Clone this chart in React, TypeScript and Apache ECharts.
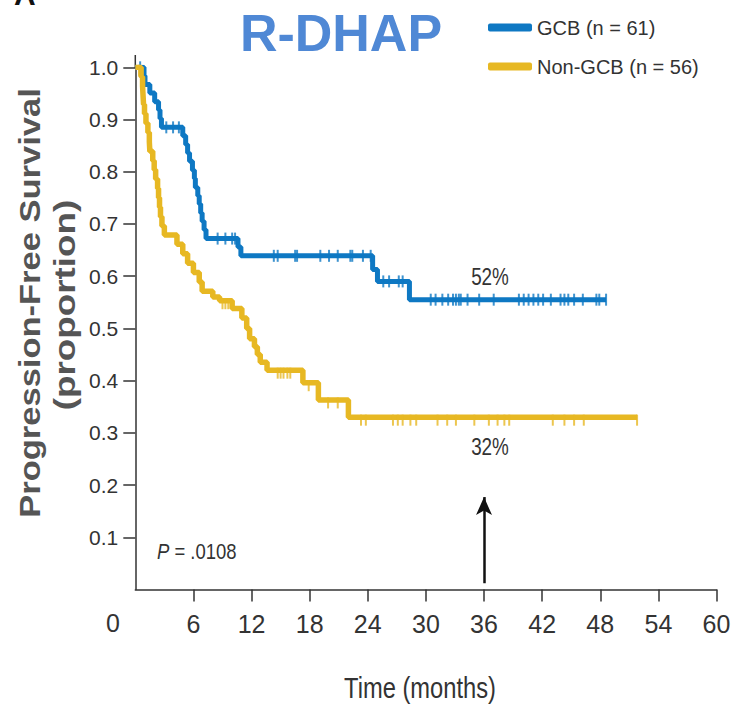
import React, { useEffect, useRef } from "react";
import * as echarts from "echarts";

// ---- Data ----
const xTickLabels = ["0", "6", "12", "18", "24", "30", "36", "42", "48", "54", "60"];
const yTickLabels = ["0.1", "0.2", "0.3", "0.4", "0.5", "0.6", "0.7", "0.8", "0.9", "1.0"];

const gcbName = "GCB (n = 61)";
const gcbTime = [0, 0.9, 1.0, 1.5, 2.0, 2.4, 2.55, 2.7, 4.9, 5.2, 5.4, 5.6, 5.9, 6.1, 6.2, 6.45, 6.6, 6.75, 6.9, 7.1, 7.3, 10.6, 10.9, 24.5, 25.0, 28.3, 48.6];
const gcbSurv = [1.0, 0.984, 0.967, 0.951, 0.934, 0.918, 0.902, 0.885, 0.869, 0.852, 0.836, 0.82, 0.803, 0.787, 0.77, 0.754, 0.738, 0.721, 0.705, 0.689, 0.672, 0.656, 0.639, 0.613, 0.59, 0.555, 0.555];
const gcbCensor = [0.5, 3.2, 3.9, 4.5, 8.5, 9.3, 10.0, 10.3, 14.3, 14.7, 16.5, 16.7, 19.1, 20.0, 20.9, 22.2, 22.4, 23.5, 24.3, 25.6, 26.2, 27.2, 27.6, 30.5, 31.0, 31.7, 32.3, 32.8, 33.1, 33.4, 33.6, 34.3, 35.5, 37.0, 39.6, 40.1, 40.6, 41.1, 41.6, 42.1, 42.9, 43.9, 44.3, 44.7, 45.3, 46.2, 47.6, 47.9, 48.6];

const ngcbName = "Non-GCB (n = 56)";
const ngcbTime = [0, 0.6, 0.75, 0.8, 0.85, 0.95, 1.1, 1.3, 1.45, 1.5, 1.8, 1.95, 2.1, 2.3, 2.4, 2.5, 2.6, 2.75, 3.0, 4.3, 4.9, 5.4, 6.0, 6.6, 6.9, 8.0, 8.7, 10.0, 11.0, 11.5, 11.8, 12.3, 12.6, 12.9, 13.6, 17.3, 18.9, 22.0, 51.8];
const ngcbSurv = [1.0, 0.982, 0.964, 0.946, 0.929, 0.911, 0.893, 0.875, 0.857, 0.839, 0.821, 0.804, 0.786, 0.768, 0.75, 0.732, 0.714, 0.696, 0.679, 0.661, 0.643, 0.625, 0.607, 0.589, 0.571, 0.56, 0.553, 0.538, 0.52, 0.5, 0.48, 0.465, 0.45, 0.435, 0.42, 0.396, 0.363, 0.33, 0.33];
const ngcbCensor = [0.4, 9.0, 9.3, 9.6, 14.7, 15.0, 15.3, 15.7, 16.0, 17.9, 19.9, 20.9, 23.3, 23.8, 26.6, 27.1, 27.6, 28.4, 29.0, 31.2, 32.2, 33.1, 35.0, 36.5, 37.4, 38.1, 38.6, 43.1, 44.3, 45.3, 46.3, 51.8];

const arrowTime = 36;
const arrowFrom = 0.012;
const arrowTo = 0.177;

const gcbLabel = "52%";
const ngcbLabel = "32%";
const pValue = ".0108";

// ---- helpers ----
const BLUE = "#0e78c3";
const YELLOW = "#e7b823";
const SANS = "'Liberation Sans', Arial, sans-serif";

function survAt(times: number[], surv: number[], t: number): number {
  let s = surv[0];
  for (let i = 0; i < times.length; i++) {
    if (times[i] <= t) s = surv[i];
  }
  return s;
}

export default function App() {
  const ref = useRef<HTMLDivElement>(null);
  useEffect(() => {
    if (!ref.current) return;
    const chart = echarts.init(ref.current, null, { renderer: "svg" });
    const gcbData = gcbTime.map((t, i) => [t, gcbSurv[i]]);
    const ngcbData = ngcbTime.map((t, i) => [t, ngcbSurv[i]]);
    const gcbCens = gcbCensor.map((t) => [t, survAt(gcbTime, gcbSurv, t)]);
    const ngcbCens = ngcbCensor.map((t) => [t, survAt(ngcbTime, ngcbSurv, t)]);

    const option: any = {
      animation: false,
      backgroundColor: "#ffffff",
      grid: { left: 135.3, right: 14.5, top: 67.3, bottom: 115.5, outerBoundsMode: "none" },
      legend: {
        data: [
          { name: gcbName, icon: "roundRect" },
          { name: ngcbName, icon: "roundRect" },
        ],
        orient: "vertical",
        left: 483,
        top: 11,
        itemWidth: 44,
        itemHeight: 8,
        itemGap: 16,
        textStyle: { fontFamily: SANS, fontSize: 20, lineHeight: 23, color: "#333" },
      },
      xAxis: {
        type: "value",
        min: 0,
        max: 60,
        interval: 6,
        axisLine: { lineStyle: { color: "#333", width: 1.5 } },
        axisTick: { length: 12, lineStyle: { color: "#333", width: 1.5 } },
        splitLine: { show: false },
        axisLabel: {
          showMinLabel: false,
          margin: 21,
          fontFamily: SANS,
          fontSize: 25,
          lineHeight: 26,
          color: "#333",
          formatter: (v: number) => xTickLabels[Math.round(v / 6)] ?? "",
        },
      },
      yAxis: {
        type: "value",
        min: 0,
        max: 1,
        interval: 0.1,
        axisLine: { show: true, lineStyle: { color: "#333", width: 1.5 } },
        axisTick: { show: true, length: 12, lineStyle: { color: "#333", width: 1.5 } },
        splitLine: { show: false },
        axisLabel: {
          showMinLabel: false,
          margin: 17,
          fontFamily: SANS,
          fontSize: 21,
          color: "#333",
          formatter: (v: number) => yTickLabels[Math.round(v * 10) - 1] ?? "",
        },
      },
      series: [
        {
          name: gcbName,
          type: "line",
          step: "end",
          data: gcbData,
          showSymbol: false,
          symbol: "none",
          color: BLUE,
          lineStyle: { color: BLUE, width: 5 },
          z: 3,
        },
        {
          name: gcbName + " censored",
          type: "scatter",
          data: gcbCens,
          symbol: "rect",
          symbolSize: [2, 12],
          itemStyle: { color: BLUE },
          z: 3,
          silent: true,
        },
        {
          name: ngcbName,
          type: "line",
          step: "end",
          data: ngcbData,
          showSymbol: false,
          symbol: "none",
          color: YELLOW,
          lineStyle: { color: YELLOW, width: 5.5 },
          z: 4,
        },
        {
          name: ngcbName + " censored",
          type: "scatter",
          data: ngcbCens,
          symbol: "rect",
          symbolSize: [2, 11],
          symbolOffset: [0, 3],
          itemStyle: { color: YELLOW },
          z: 4,
          silent: true,
        },
        {
          name: "arrow",
          type: "line",
          data: [],
          silent: true,
          markLine: {
            silent: true,
            symbol: ["none", "arrow"],
            symbolSize: [12, 18],
            label: { show: false },
            itemStyle: { color: "#111" },
            lineStyle: { color: "#111", width: 2.5, type: "solid" },
            data: [[{ coord: [arrowTime, arrowFrom] }, { coord: [arrowTime, arrowTo] }]],
          },
        },
      ],
      graphic: [
        {
          type: "text",
          x: 341,
          y: 33,
          style: {
            text: "R-DHAP",
            align: "center",
            verticalAlign: "middle",
            font: "bold 52px 'Liberation Sans', Arial, sans-serif",
            fill: "#4f88d5",
          },
        },
        {
          type: "text",
          x: 14,
          y: 9,
          style: {
            text: "A",
            align: "left",
            verticalAlign: "bottom",
            font: "bold 30px 'Liberation Sans', Arial, sans-serif",
            fill: "#111",
          },
        },
        {
          type: "line",
          shape: { x1: 135.3, y1: 55, x2: 135.3, y2: 68 },
          style: { stroke: "#333", lineWidth: 1.5 },
        },
        {
          type: "text",
          x: 113,
          y: 623,
          style: {
            text: xTickLabels[0],
            align: "center",
            verticalAlign: "middle",
            font: "25px " + SANS,
            fill: "#333",
          },
        },
        {
          type: "text",
          x: 420,
          y: 688,
          scaleX: 0.79,
          style: {
            text: "Time (months)",
            align: "center",
            verticalAlign: "middle",
            font: "30px " + SANS,
            fill: "#333",
          },
        },
        {
          type: "text",
          x: 157,
          y: 551,
          scaleX: 0.84,
          style: {
            text: "{i|P} = " + pValue,
            align: "left",
            verticalAlign: "middle",
            font: "22px " + SANS,
            fill: "#333",
            rich: { i: { fontStyle: "italic", fontFamily: SANS, fontSize: 22, fill: "#333" } },
          },
        },
        {
          type: "text",
          x: 490,
          y: 277,
          scaleX: 0.82,
          style: { text: gcbLabel, align: "center", verticalAlign: "middle", font: "23px " + SANS, fill: "#333" },
        },
        {
          type: "text",
          x: 490,
          y: 447,
          scaleX: 0.82,
          style: { text: ngcbLabel, align: "center", verticalAlign: "middle", font: "23px " + SANS, fill: "#333" },
        },
        {
          type: "text",
          x: 30,
          y: 303,
          rotation: Math.PI / 2,
          scaleX: 1.19,
          style: {
            text: "Progression-Free Survival",
            align: "center",
            verticalAlign: "middle",
            font: "bold 29px 'Liberation Sans', Arial, sans-serif",
            fill: "#555",
          },
        },
        {
          type: "text",
          x: 65,
          y: 305,
          rotation: Math.PI / 2,
          scaleX: 1.27,
          style: {
            text: "(proportion)",
            align: "center",
            verticalAlign: "middle",
            font: "bold 29px 'Liberation Sans', Arial, sans-serif",
            fill: "#555",
          },
        },
      ],
    };
    chart.setOption(option);
    return () => chart.dispose();
  }, []);
  return (
    <div
      ref={ref}
      style={{ position: "absolute", left: 0, top: 0, width: 731, height: 705 }}
    />
  );
}
